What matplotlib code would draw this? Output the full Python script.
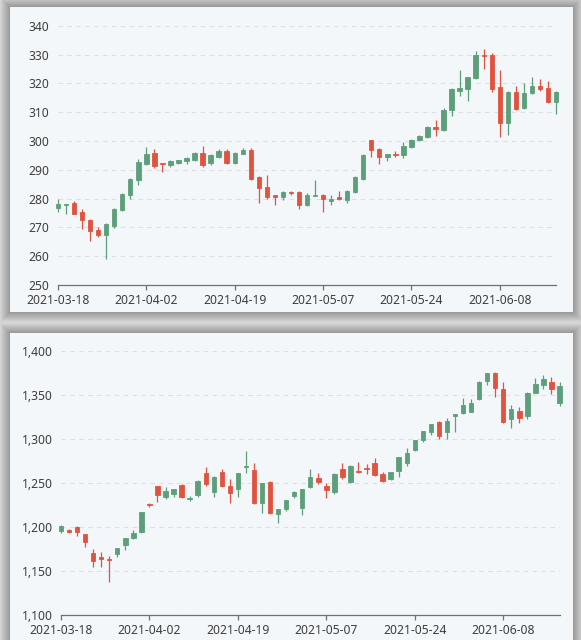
"""
Two stacked daily candlestick panels (2021-03-18 .. 2021-06-17),
drawn on light cards with a soft drop shadow.
"""

import matplotlib
matplotlib.use("Agg")
import matplotlib.pyplot as plt
from matplotlib.patches import Rectangle
from matplotlib.ticker import FuncFormatter, MultipleLocator

W, H = 581, 640

dates = [
    "2021-03-18", "2021-03-19", "2021-03-22", "2021-03-23", "2021-03-24", "2021-03-25",
    "2021-03-26", "2021-03-29", "2021-03-30", "2021-03-31", "2021-04-01", "2021-04-02",
    "2021-04-05", "2021-04-06", "2021-04-07", "2021-04-08", "2021-04-09", "2021-04-12",
    "2021-04-13", "2021-04-14", "2021-04-15", "2021-04-16", "2021-04-19", "2021-04-20",
    "2021-04-21", "2021-04-22", "2021-04-23", "2021-04-26", "2021-04-27", "2021-04-28",
    "2021-04-29", "2021-04-30", "2021-05-06", "2021-05-07", "2021-05-10", "2021-05-11",
    "2021-05-12", "2021-05-13", "2021-05-14", "2021-05-17", "2021-05-18", "2021-05-19",
    "2021-05-20", "2021-05-21", "2021-05-24", "2021-05-25", "2021-05-26", "2021-05-27",
    "2021-05-28", "2021-05-31", "2021-06-01", "2021-06-02", "2021-06-03", "2021-06-04",
    "2021-06-07", "2021-06-08", "2021-06-09", "2021-06-10", "2021-06-11", "2021-06-15",
    "2021-06-16", "2021-06-17", "2021-06-18",
]

# top panel: open / close / low / high
top_open = [
    276.8, 277.8, 278.3, 275.4, 272.7, 269.0, 267.3, 270.4, 276.2, 281.1, 286.3, 292.0,
    295.8, 292.3, 291.5, 292.5, 293.0, 293.5, 295.8, 292.5, 294.6, 296.4, 292.5, 295.6,
    296.7, 287.5, 284.0, 281.1, 280.6, 282.2, 282.3, 277.7, 280.9, 281.4, 279.3, 280.6,
    279.4, 282.3, 286.9, 300.2, 297.1, 294.6, 295.6, 295.0, 297.9, 300.2, 301.3, 304.8,
    303.9, 310.6, 317.5, 318.1, 321.7, 329.9, 329.9, 318.6, 306.2, 316.9, 311.3, 316.5,
    318.9, 318.3, 313.4,
]
top_close = [
    278.2, 278.1, 274.8, 272.5, 268.8, 267.3, 271.3, 276.5, 281.7, 286.9, 292.7, 295.3,
    291.2, 291.9, 293.0, 293.3, 294.0, 295.8, 291.5, 295.0, 296.4, 292.5, 295.8, 296.7,
    286.9, 283.5, 280.6, 280.6, 282.3, 281.9, 277.7, 281.1, 281.4, 279.7, 280.0, 279.7,
    282.6, 287.5, 295.0, 296.7, 294.6, 295.3, 295.0, 298.1, 300.4, 301.7, 305.0, 304.3,
    310.8, 318.1, 318.4, 322.1, 329.9, 329.5, 318.1, 306.2, 316.9, 311.1, 316.7, 319.0,
    318.1, 313.4, 317.1,
]
top_low = [
    275.3, 274.8, 274.6, 269.6, 265.3, 266.7, 258.9, 269.8, 275.8, 280.0, 284.6, 291.5,
    290.5, 289.2, 291.0, 292.0, 292.0, 293.0, 291.0, 291.5, 294.2, 292.0, 292.0, 295.3,
    286.5, 278.3, 280.0, 277.7, 279.4, 281.3, 276.5, 277.3, 280.8, 275.4, 277.8, 279.4,
    278.3, 282.0, 286.5, 294.4, 291.9, 293.0, 294.6, 294.2, 297.6, 300.0, 301.0, 301.6,
    303.5, 308.8, 315.7, 314.0, 321.4, 325.0, 316.9, 301.3, 301.9, 310.9, 311.0, 316.3,
    317.5, 313.2, 309.4,
]
top_high = [
    279.8, 278.2, 279.2, 276.5, 273.0, 270.0, 271.5, 276.6, 282.0, 287.0, 293.8, 298.0,
    297.3, 292.5, 293.3, 293.5, 294.3, 296.0, 298.4, 295.3, 297.3, 297.3, 296.0, 297.6,
    297.5, 287.8, 288.1, 281.3, 282.5, 282.6, 282.5, 282.1, 286.3, 281.6, 281.2, 282.6,
    282.8, 288.0, 295.5, 300.4, 297.5, 295.5, 296.5, 299.6, 300.6, 302.0, 305.3, 307.3,
    311.5, 318.3, 324.6, 322.3, 331.1, 331.9, 330.4, 324.6, 317.2, 318.9, 320.0, 322.1,
    321.5, 320.9, 317.3,
]

# bottom panel: open / close / low / high
bot_open = [
    1195.8, 1196.6, 1200.4, 1191.7, 1170.1, 1165.6, 1164.0, 1169.3, 1179.5, 1187.2, 1194.0,
    1226.1, 1246.6, 1233.7, 1237.5, 1247.7, 1231.5, 1236.4, 1261.4, 1240.1, 1262.9, 1246.6,
    1242.8, 1267.8, 1264.8, 1226.9, 1251.5, 1214.4, 1220.1, 1235.2, 1221.3, 1245.1, 1255.5,
    1246.6, 1240.1, 1265.9, 1251.5, 1263.6, 1267.4, 1273.0, 1260.2, 1254.2, 1264.0, 1273.0,
    1287.5, 1298.9, 1307.6, 1318.9, 1307.6, 1326.5, 1329.2, 1331.1, 1345.1, 1366.3, 1375.3,
    1356.5, 1322.7, 1332.2, 1326.1, 1352.7, 1361.4, 1364.8, 1341.3,
]
bot_close = [
    1201.5, 1194.3, 1194.0, 1183.3, 1161.4, 1163.3, 1162.5, 1176.5, 1187.2, 1192.8, 1216.7,
    1224.7, 1236.4, 1240.9, 1242.8, 1234.4, 1232.6, 1252.0, 1248.9, 1257.2, 1246.6, 1238.3,
    1261.0, 1269.3, 1226.9, 1249.7, 1215.5, 1220.5, 1230.7, 1240.1, 1242.8, 1257.2, 1251.5,
    1242.0, 1260.2, 1256.5, 1269.7, 1262.2, 1265.9, 1259.1, 1252.0, 1262.9, 1279.2, 1284.4,
    1298.9, 1309.1, 1317.0, 1303.4, 1320.8, 1328.4, 1338.6, 1341.3, 1365.1, 1374.6, 1358.3,
    1319.7, 1333.8, 1323.5, 1352.7, 1362.2, 1367.8, 1356.8, 1360.2,
]
bot_low = [
    1192.8, 1192.8, 1189.8, 1177.6, 1154.2, 1154.9, 1137.9, 1166.3, 1173.9, 1186.5, 1193.0,
    1222.4, 1228.8, 1231.4, 1233.7, 1233.0, 1229.5, 1234.4, 1247.0, 1233.7, 1246.0, 1227.6,
    1233.7, 1261.7, 1226.0, 1216.3, 1215.0, 1204.9, 1218.5, 1232.6, 1213.6, 1244.5, 1249.0,
    1232.6, 1237.5, 1255.0, 1250.0, 1261.7, 1260.2, 1258.0, 1251.0, 1253.0, 1256.5, 1269.3,
    1286.0, 1297.0, 1304.5, 1299.6, 1300.0, 1307.6, 1328.5, 1330.5, 1344.5, 1361.4, 1347.3,
    1317.8, 1312.2, 1317.8, 1322.4, 1352.0, 1356.8, 1351.1, 1337.5,
]
bot_high = [
    1202.0, 1198.0, 1200.6, 1192.0, 1174.7, 1172.0, 1167.0, 1176.7, 1187.5, 1196.6, 1217.0,
    1227.6, 1247.0, 1245.8, 1243.0, 1248.5, 1235.2, 1253.0, 1268.5, 1258.0, 1265.9, 1254.0,
    1261.5, 1286.7, 1272.4, 1250.0, 1252.0, 1221.0, 1231.0, 1240.5, 1243.0, 1265.9, 1261.7,
    1250.3, 1261.0, 1273.0, 1270.0, 1273.5, 1271.6, 1278.0, 1262.0, 1263.0, 1279.5, 1289.4,
    1299.2, 1309.4, 1317.3, 1320.5, 1323.5, 1328.7, 1346.2, 1345.1, 1366.3, 1375.0, 1375.8,
    1364.4, 1338.6, 1336.0, 1353.0, 1369.0, 1372.7, 1370.1, 1364.4,
]

UP = "#5c9f7a"
DOWN = "#e0533f"
CARD = "#f3f7fa"
AXIS = "#6e7079"
TEXT = "#3d3d3d"
FONT = "Noto Sans"


def card(fig, x0, y0, x1, y1):
    """Light card at pixel box (top-left origin) with a blurred shadow."""
    for k in range(9, 0, -1):
        fig.add_artist(Rectangle(
            ((x0 - k) / W, 1 - (y1 + k) / H), (x1 - x0 + 2 * k) / W, (y1 - y0 + 2 * k) / H,
            transform=fig.transFigure, color="black", alpha=0.03, lw=0, zorder=-3,
        ))
    fig.add_artist(Rectangle(
        (x0 / W, 1 - y1 / H), (x1 - x0) / W, (y1 - y0) / H,
        transform=fig.transFigure, color=CARD, lw=0, zorder=-2,
    ))


def candles(ax, o, c, lo, hi):
    for i in range(len(o)):
        col = UP if c[i] >= o[i] else DOWN
        ax.vlines(i, lo[i], hi[i], color=col, lw=0.9, zorder=2, clip_on=False)
        ax.bar(i, max(abs(c[i] - o[i]), 0.001), bottom=min(o[i], c[i]), width=0.55,
               color=col, edgecolor=col, linewidth=0.6, zorder=3, clip_on=False)


def style(ax, ylo, yhi, step, fmt):
    ax.set_facecolor("none")
    ax.set_xlim(0, len(dates) - 1)
    ax.set_ylim(ylo, yhi)
    ax.yaxis.set_major_locator(MultipleLocator(step))
    ax.yaxis.set_major_formatter(FuncFormatter(fmt))
    ax.grid(axis="y", color="#dcdfe5", linestyle=(0, (4, 4)), lw=0.8, zorder=1)
    ax.set_axisbelow(True)
    for s in ("left", "right", "top"):
        ax.spines[s].set_visible(False)
    ax.spines["bottom"].set_color(AXIS)
    ax.spines["bottom"].set_linewidth(0.9)
    ticks = list(range(0, len(dates), 11))
    ax.set_xticks(ticks)
    ax.set_xticklabels([dates[i] for i in ticks])
    ax.tick_params(axis="y", length=0, pad=6, labelsize=8.7, labelcolor=TEXT)
    ax.tick_params(axis="x", length=3.5, width=0.9, color=AXIS, pad=3,
                   labelsize=8.7, labelcolor=TEXT)
    for t in ax.get_xticklabels() + ax.get_yticklabels():
        t.set_fontfamily(FONT)


def main():
    fig = plt.figure(figsize=(W / 100, H / 100), dpi=100)
    fig.patch.set_facecolor("#d4d4d4")
    card(fig, 10, 7, 573, 312)
    card(fig, 10, 333, 573, 650)

    ax1 = fig.add_axes([58 / W, 1 - 285 / H, (556 - 58) / W, (285 - 25.7) / H])
    style(ax1, 250, 340, 10, lambda v, _: f"{v:.0f}")
    candles(ax1, top_open, top_close, top_low, top_high)

    ax2 = fig.add_axes([61 / W, 1 - 615 / H, (559.5 - 61) / W, (615 - 351) / H])
    style(ax2, 1100, 1400, 50, lambda v, _: f"{v:,.0f}")
    candles(ax2, bot_open, bot_close, bot_low, bot_high)

    fig.savefig("out.png", dpi=100, facecolor=fig.get_facecolor())


if __name__ == "__main__":
    main()
